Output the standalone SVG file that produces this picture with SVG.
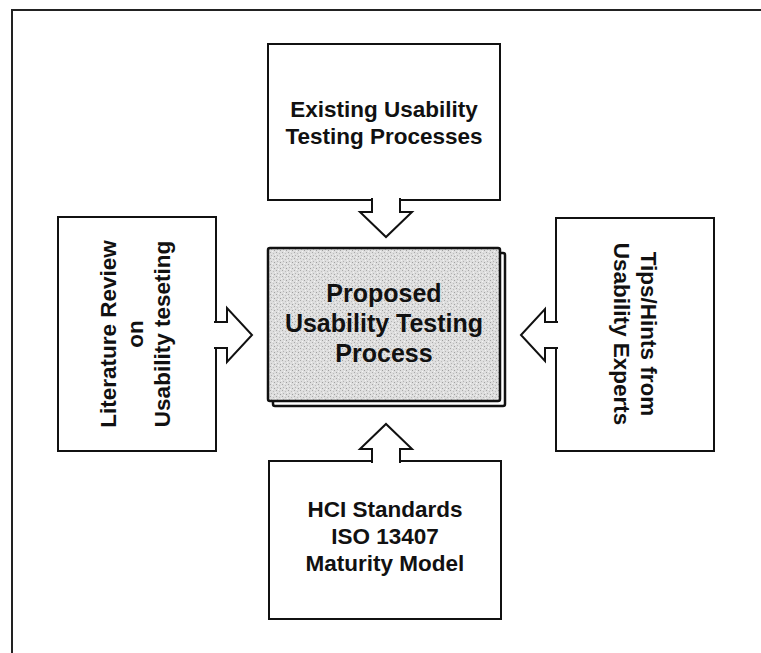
<svg xmlns="http://www.w3.org/2000/svg" width="761" height="653" viewBox="0 0 761 653">
  <style>
    .box { fill: #ffffff; stroke: #111111; stroke-width: 2; }
    .arrow { fill: #ffffff; stroke: #111111; stroke-width: 2; stroke-linejoin: miter; }
    .lbl { font-family: "Liberation Sans", Arial, sans-serif; font-weight: bold; font-size: 22.5px; fill: #111111; text-anchor: middle; }
    .clbl { font-family: "Liberation Sans", Arial, sans-serif; font-weight: bold; font-size: 25px; fill: #111111; text-anchor: middle; }
    .frame { fill: none; stroke: #222222; stroke-width: 2; }
  </style>
  <defs>
    <pattern id="grain" width="6" height="6" patternUnits="userSpaceOnUse">
      <rect width="6" height="6" fill="#dedede"/>
      <rect x="0" y="0" width="1" height="1" fill="#a8a8a8"/>
      <rect x="3" y="1" width="1" height="1" fill="#bdbdbd"/>
      <rect x="1" y="3" width="1" height="1" fill="#b4b4b4"/>
      <rect x="4" y="4" width="1" height="1" fill="#a0a0a0"/>
      <rect x="5" y="2" width="1" height="1" fill="#f2f2f2"/>
      <rect x="2" y="5" width="1" height="1" fill="#f4f4f4"/>
    </pattern>
  </defs>
  <rect width="761" height="653" fill="#ffffff"/>
  <g id="frame">
    <polyline class="frame" points="12,653 12,10 761,10"/>
  </g>

  <g id="top-node">
    <rect class="box" x="268" y="44" width="232" height="156"/>
    <text class="lbl" x="384" y="117">Existing Usability</text>
    <text class="lbl" x="384" y="144">Testing Processes</text>
  </g>

  <g id="left-node">
    <rect class="box" x="58" y="217" width="158" height="234"/>
    <g transform="translate(137,334) rotate(-90)">
      <text class="lbl" x="0" y="-21">Literature Review</text>
      <text class="lbl" x="0" y="6">on</text>
      <text class="lbl" x="0" y="33">Usability teseting</text>
    </g>
  </g>

  <g id="right-node">
    <rect class="box" x="556" y="218" width="158" height="233"/>
    <g transform="translate(635,334) rotate(90)">
      <text class="lbl" x="0" y="-6">Tips/Hints from</text>
      <text class="lbl" x="0" y="21">Usability Experts</text>
    </g>
  </g>

  <g id="bottom-node">
    <rect class="box" x="269" y="461" width="232" height="158"/>
    <text class="lbl" x="385" y="517">HCI Standards</text>
    <text class="lbl" x="385" y="544">ISO 13407</text>
    <text class="lbl" x="385" y="571">Maturity Model</text>
  </g>

  <g id="center-node">
    <rect x="273" y="253" width="232" height="153" rx="2" fill="#ffffff" stroke="#111111" stroke-width="2.5"/>
    <rect x="268" y="248" width="232" height="153" rx="2" fill="url(#grain)" stroke="#111111" stroke-width="2.5"/>
    <text class="clbl" x="384" y="302">Proposed</text>
    <text class="clbl" x="384" y="332">Usability Testing</text>
    <text class="clbl" x="384" y="362">Process</text>
  </g>

  <g id="connectors">
    <path class="arrow" d="M372,198 V212 H360 L386,237 L412,212 H400 V198"/>
    <path class="arrow" d="M372,463 V449 H360 L386,424 L412,449 H400 V463"/>
    <path class="arrow" d="M214,322 H227 V308 L252,335 L227,362 V348 H214"/>
    <path class="arrow" d="M558,322 H545 V309 L521,335 L545,361 V348 H558"/>
  </g>
</svg>
